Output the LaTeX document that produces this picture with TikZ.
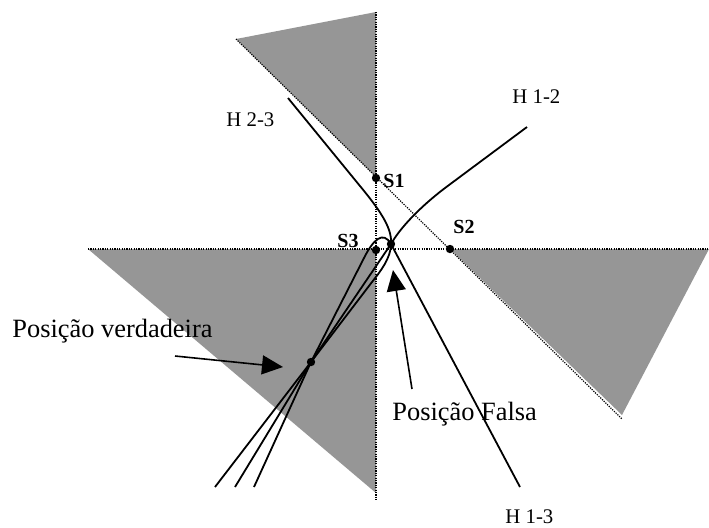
\documentclass[tikz,border=0pt]{standalone}
\usepackage{fontspec}
\setmainfont{Liberation Serif}
\usetikzlibrary{arrows.meta}
\definecolor{sectorgray}{RGB}{150,150,150}

\begin{document}
\begin{tikzpicture}[x=0.5pt,y=-0.5pt,
  guide/.style={line width=0.6pt,dash pattern=on 0.6pt off 0.6pt},
  hyp/.style={line width=0.9pt,line join=round},
  pt/.style={circle,fill=black,inner sep=0pt,minimum size=4.2pt},
  sta/.style={font=\fontsize{10}{12}\selectfont\bfseries,inner sep=0pt,anchor=base west},
  hlab/.style={font=\fontsize{10.4}{12}\selectfont,inner sep=0pt,anchor=base west},
  big/.style={font=\fontsize{13.2}{15}\selectfont,inner sep=0pt,anchor=base west},
  ptr/.style={line width=0.8pt,-{Triangle[length=10.5pt,width=9.5pt]}}]
\useasboundingbox (0,0) rectangle (709,527);
% shaded sectors
\fill[sectorgray] (236,39) -- (376,12) -- (376,177) -- cycle;
\fill[sectorgray] (450,249) -- (709,249) -- (622,415) -- cycle;
\fill[sectorgray] (88,249) -- (376,249) -- (376,493) -- cycle;
% guide lines
\draw[guide] (376,12) -- (376,500);
\draw[guide] (88,249) -- (709,249);
\draw[guide] (236,39) -- (622,419);
% stations and fixes
\node[pt] (s1) at (376,178) {};
\node[pt] (s2) at (450,249) {};
\node[pt] (s3) at (376,250) {};
\node[pt] (pf) at (391,244) {};
\node[pt] (pv) at (311,362) {};
% hyperbolas
\draw[hyp] (527,127) -- (445,188) .. controls (420,207) and (400,228) .. (pf.center) -- (pv.center) -- (235,487);
\draw[hyp] (288,98) -- (360,186) .. controls (384,215) and (392,230) .. (pf.center)
  .. controls (391,258) and (380,272) .. (372,282) -- (pv.center) -- (215,487);
\draw[hyp] (254,487) -- (pv.center) -- (364,258) .. controls (373,240) and (383,230) .. (pf.center) -- (520,487);
% labels
\node[sta] (s1lab) at (383,187) {S1};
\node[sta] (s2lab) at (453,233) {S2};
\node[sta] (s3lab) at (337,247) {S3};
\node[hlab] (h12) at (512,103) {H 1-2};
\node[hlab] (h23) at (226,126) {H 2-3};
\node[hlab] (h13) at (505,523) {H 1-3};
\node[big] (tv) at (12,337) {Posição verdadeira};
\node[big] (tf) at (392,420) {Posição Falsa};
% pointers
\coordinate (tvtail) at (175,356);
\coordinate (tvtip) at (283,367);
\coordinate (tftail) at (412,389);
\coordinate (tftip) at (393,270);
\draw[ptr] (tvtail) -- (tvtip);
\draw[ptr] (tftail) -- (tftip);
\end{tikzpicture}
\end{document}
